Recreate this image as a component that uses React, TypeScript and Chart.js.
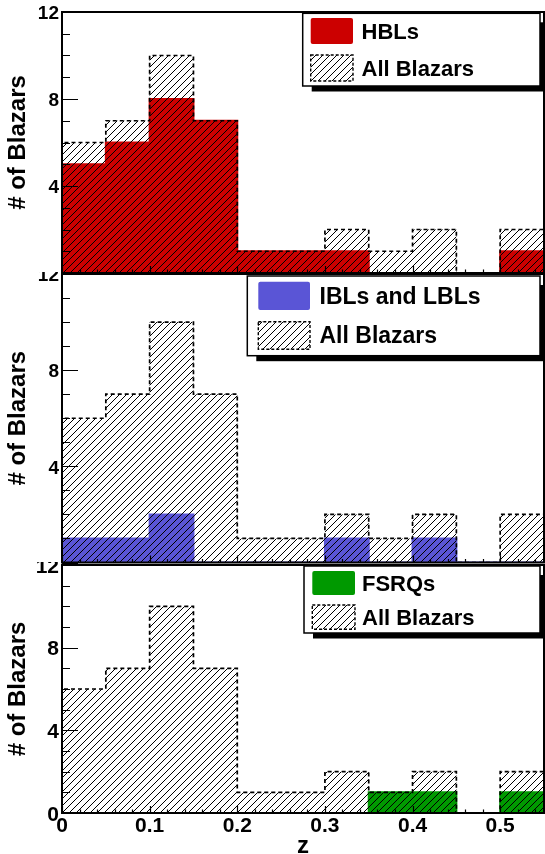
import React, { useEffect, useRef } from 'react';
import { Chart, registerables } from 'chart.js';

Chart.register(...registerables);

// ---------- data ----------
const binEdges = [0, 0.05, 0.1, 0.15, 0.2, 0.25, 0.3, 0.35, 0.4, 0.45, 0.5, 0.55];
const allBlazars = [6, 7, 10, 7, 1, 1, 2, 1, 2, 0, 2];
const hbls = [5, 6, 8, 7, 1, 1, 1, 0, 0, 0, 1];
const iblsLbls = [1, 1, 2, 0, 0, 0, 1, 0, 1, 0, 0];
const fsrqs = [0, 0, 0, 0, 0, 0, 0, 1, 1, 0, 1];
const yTickValues = [0, 4, 8, 12];
const yTickLabels = ['0', '4', '8', '12'];
const xTickValues = [0, 0.1, 0.2, 0.3, 0.4, 0.5];
const xTickLabels = ['0', '0.1', '0.2', '0.3', '0.4', '0.5'];
const yTitle = '# of Blazars';
const xTitle = 'z';
const allLabel = 'All Blazars';

const FONT = "'Liberation Sans', Arial, Helvetica, sans-serif";
Chart.defaults.font.family = FONT;

function stepPoints(counts: number[]) {
  const pts = [{ x: binEdges[0], y: 0 }];
  counts.forEach((c, i) => pts.push({ x: binEdges[i + 1], y: c }));
  pts.push({ x: binEdges[binEdges.length - 1], y: 0 });
  return pts;
}

function makeHatch(ctx: CanvasRenderingContext2D) {
  const s = 7;
  const c = document.createElement('canvas');
  c.width = s;
  c.height = s;
  const g = c.getContext('2d')!;
  g.strokeStyle = '#000';
  g.lineWidth = 1;
  for (const k of [-s, 0, s]) {
    g.beginPath();
    g.moveTo(k, s);
    g.lineTo(k + s, 0);
    g.stroke();
  }
  return ctx.createPattern(c, 'repeat')!;
}

const panels = [
  {
    key: 'p1', label: 'HBLs', counts: hbls, color: '#cc0000', top: 0, height: 275, padBottom: 2,
    showX: false, hideZero: true, yFont: 19, xAxisHeight: 0, clipTop: 0,
    legend: { x: 302.7, y: 13.3, w: 237.3, h: 72.7, sx: 310.7, sw: 42.3, r1: [18, 44], r2: [55, 81], tx: 361.5, font: 22 },
  },
  {
    key: 'p2', label: 'IBLs and LBLs', counts: iblsLbls, color: '#5a55d6', top: 262, height: 302, padBottom: 1.5,
    showX: false, hideZero: true, yFont: 19, xAxisHeight: 0, clipTop: 10,
    legend: { x: 247.3, y: 14, w: 292.7, h: 79.7, sx: 258.3, sw: 51.7, r1: [19.7, 48], r2: [59.7, 87.3], tx: 319.5, font: 23 },
  },
  {
    key: 'p3', label: 'FSRQs', counts: fsrqs, color: '#009900', top: 553, height: 320, padBottom: 0,
    showX: true, hideZero: false, yFont: 21, xAxisHeight: 60, clipTop: 9,
    legend: { x: 304, y: 13, w: 236, h: 67, sx: 312.3, sw: 42.7, r1: [18, 42], r2: [52, 76.3], tx: 362, font: 22 },
  },
];

const clipPlugin = {
  id: 'padClip',
  beforeDraw(chart: any, _a: any, opts: any) {
    const { ctx } = chart;
    ctx.save();
    ctx.beginPath();
    ctx.rect(0, opts.top || 0, chart.width, chart.height);
    ctx.clip();
  },
  afterDraw(chart: any) {
    chart.ctx.restore();
  },
};

const framePlugin = {
  id: 'rootFrame',
  afterDatasetsDraw(chart: any) {
    const { ctx, chartArea: a, scales } = chart;
    const xs = scales.x;
    const ys = scales.y;
    ctx.save();
    ctx.strokeStyle = '#000';
    ctx.lineWidth = 1.2;
    ctx.beginPath();
    for (let v = 0; v <= 12; v += 1) {
      const y = Math.round(ys.getPixelForValue(v)) + 0.5;
      const len = v % 4 === 0 ? 16 : 8;
      ctx.moveTo(a.left, y);
      ctx.lineTo(a.left + len, y);
    }
    for (let k = 0; k <= 27; k++) {
      const x = Math.round(xs.getPixelForValue(k * 0.02)) + 0.5;
      const len = k % 5 === 0 ? 7 : 3.5;
      ctx.moveTo(x, a.bottom);
      ctx.lineTo(x, a.bottom - len);
    }
    ctx.stroke();
    ctx.lineWidth = 2;
    ctx.strokeRect(a.left, a.top, a.right - a.left, a.bottom - a.top);
    ctx.restore();
  },
};

const legendPlugin = {
  id: 'rootLegend',
  afterDatasetsDraw(chart: any, _args: any, opts: any) {
    const { ctx } = chart;
    const L = opts.box;
    const hatch = opts.hatch;
    const ds = chart.data.datasets;
    ctx.save();
    ctx.fillStyle = '#000';
    ctx.fillRect(L.x + 9, L.y + 9, L.w - 5, L.h - 3.5);
    ctx.fillStyle = '#fff';
    ctx.fillRect(L.x, L.y, L.w, L.h);
    ctx.strokeStyle = '#000';
    ctx.lineWidth = 1.5;
    ctx.strokeRect(L.x, L.y, L.w, L.h);
    ctx.fillStyle = ds[1].backgroundColor;
    ctx.beginPath();
    ctx.roundRect(L.sx, L.r1[0], L.sw, L.r1[1] - L.r1[0], 2);
    ctx.fill();
    ctx.fillStyle = hatch;
    ctx.fillRect(L.sx, L.r2[0], L.sw, L.r2[1] - L.r2[0]);
    ctx.setLineDash([3, 2]);
    ctx.lineWidth = 1.4;
    ctx.strokeRect(L.sx, L.r2[0], L.sw, L.r2[1] - L.r2[0]);
    ctx.setLineDash([]);
    ctx.fillStyle = '#000';
    ctx.font = `bold ${L.font}px ${FONT}`;
    ctx.textBaseline = 'middle';
    ctx.textAlign = 'left';
    ctx.fillText(ds[1].label, L.tx, (L.r1[0] + L.r1[1]) / 2 + 1.5);
    ctx.fillText(ds[0].label, L.tx, (L.r2[0] + L.r2[1]) / 2 + 1.5);
    ctx.restore();
  },
};

function Panel({ cfg }: { cfg: any }) {
  const ref = useRef<HTMLCanvasElement>(null);
  useEffect(() => {
    const canvas = ref.current!;
    const ctx = canvas.getContext('2d')!;
    const hatch = makeHatch(ctx);
    const chart = new Chart(canvas, {
      type: 'line',
      data: {
        datasets: [
          {
            label: allLabel,
            data: stepPoints(allBlazars),
            stepped: 'after',
            borderColor: '#000',
            borderWidth: 1.7,
            borderDash: [4, 3],
            backgroundColor: hatch,
            fill: 'origin',
            pointRadius: 0,
          },
          {
            label: cfg.label,
            data: stepPoints(cfg.counts),
            stepped: 'after',
            borderColor: cfg.color,
            borderWidth: 2,
            backgroundColor: cfg.color,
            fill: 'origin',
            pointRadius: 0,
          },
        ],
      },
      options: {
        responsive: false,
        animation: false,
        events: [],
        layout: { padding: { top: 12, right: 1, bottom: cfg.padBottom, left: 0 } },
        plugins: {
          legend: { display: false },
          tooltip: { enabled: false },
          rootLegend: { box: cfg.legend, hatch },
          padClip: { top: cfg.clipTop },
        } as any,
        scales: {
          x: {
            type: 'linear',
            min: 0,
            max: 0.55,
            display: cfg.showX,
            grid: { display: false, drawTicks: false },
            border: { display: false },
            afterBuildTicks: (s: any) => {
              s.ticks = xTickValues.map((v) => ({ value: v }));
            },
            afterFit: (s: any) => {
              if (cfg.showX) s.height = cfg.xAxisHeight;
              s.paddingLeft = 0;
              s.paddingRight = 0;
            },
            ticks: {
              autoSkip: false,
              maxRotation: 0,
              minRotation: 0,
              padding: 1,
              color: '#000',
              font: { size: 21, weight: 'bold' },
              callback: (v: any) => xTickLabels[xTickValues.indexOf(Number(v))] ?? '',
            },
            title: {
              display: cfg.showX,
              text: xTitle,
              color: '#000',
              font: { size: 24, weight: 'bold' },
              padding: { top: 0, bottom: 12.6 },
            },
          },
          y: {
            type: 'linear',
            min: 0,
            max: 12,
            grid: { display: false, drawTicks: false },
            border: { display: false },
            afterBuildTicks: (s: any) => {
              s.ticks = yTickValues.map((v) => ({ value: v }));
            },
            afterFit: (s: any) => {
              s.width = 62;
              s.paddingTop = 0;
              s.paddingBottom = 0;
            },
            ticks: {
              autoSkip: false,
              padding: 3,
              labelOffset: 2,
              color: '#000',
              font: { size: cfg.yFont, weight: 'bold' },
              callback: (v: any) => {
                const n = Number(v);
                if (cfg.hideZero && n === 0) return '';
                return yTickLabels[yTickValues.indexOf(n)] ?? '';
              },
            },
            title: {
              display: true,
              text: yTitle,
              color: '#000',
              font: { size: 24, weight: 'bold' },
              padding: { top: 4, bottom: 0 },
            },
          },
        },
      } as any,
      plugins: [clipPlugin, framePlugin, legendPlugin],
    });
    return () => chart.destroy();
  }, []);
  return (
    <canvas
      ref={ref}
      width={545}
      height={cfg.height}
      style={{ position: 'absolute', left: 0, top: cfg.top, width: 545, height: cfg.height }}
    />
  );
}

export default function App() {
  return (
    <div
      style={{
        position: 'absolute',
        left: 0,
        top: 0,
        width: 545,
        height: 854,
        overflow: 'hidden',
        background: '#fff',
      }}
    >
      {panels.map((p) => (
        <Panel key={p.key} cfg={p} />
      ))}
    </div>
  );
}
